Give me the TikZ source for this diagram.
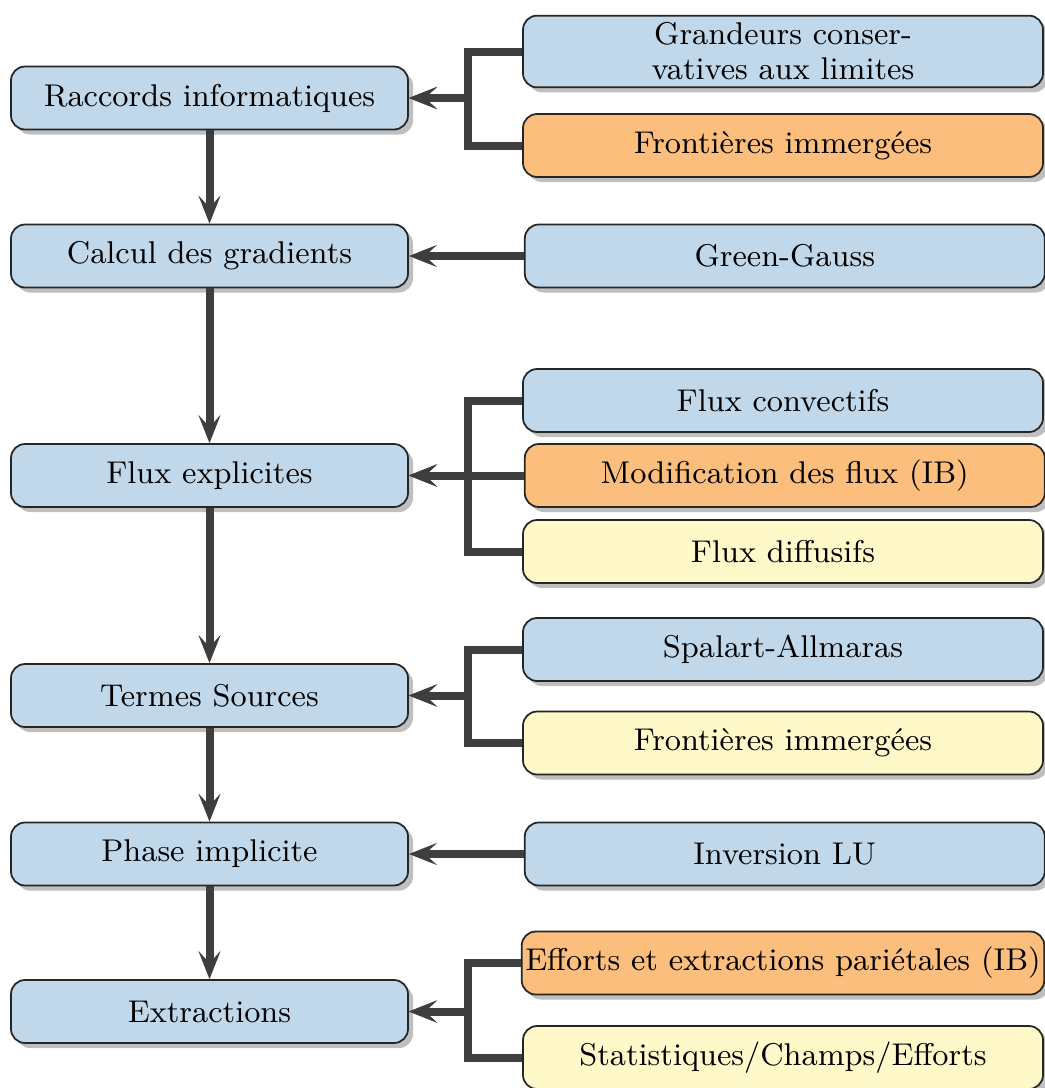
\documentclass[tikz,border=0pt]{standalone}
\usepackage{tikz}
\usetikzlibrary{positioning}
\usetikzlibrary{shadows}
\usetikzlibrary{arrows.meta}

\definecolor{boxblue}{RGB}{193,216,234}
\definecolor{boxorange}{RGB}{251,190,124}
\definecolor{boxyellow}{RGB}{255,248,200}
\definecolor{linegray}{RGB}{62,62,62}

\tikzset{
    box/.style={draw=black!85, line width=0.5pt, rounded corners=4pt, fill=boxblue,
        minimum height=0.63cm, inner xsep=1pt, inner ysep=2pt, align=center,
        font=\fontsize{8.95}{10}\selectfont,
        drop shadow={shadow xshift=0.05cm, shadow yshift=-0.05cm, fill=black!25, opacity=1}},
    leftbox/.style={box, minimum width=3.97cm},
    rightbox/.style={box, minimum width=5.2cm},
    ibbox/.style={fill=boxorange},
    otherbox/.style={fill=boxyellow},
    link/.style={line width=0.08cm, draw=linegray,
        -{Stealth[length=2.8mm, width=2.2mm, inset=1.2mm]}},
}

\begin{document}
\begin{tikzpicture}
    \useasboundingbox (0,0) rectangle (10.44,-10.88);

    % main steps
    \node[leftbox] (raccords) at (2.095,-0.98) {Raccords informatiques};
    \node[leftbox] (gradients) at (2.095,-2.56) {Calcul des gradients};
    \node[leftbox] (fluxexp) at (2.095,-4.755) {Flux explicites};
    \node[leftbox] (sources) at (2.095,-6.955) {Termes Sources};
    \node[leftbox] (implicite) at (2.095,-8.54) {Phase implicite};
    \node[leftbox] (extractions) at (2.095,-10.115) {Extractions};

    % details
    \node[rightbox] (grandeurs) at (7.83,-0.515) {Grandeurs conser-\\vatives aux limites};
    \node[rightbox, ibbox] (frontieres1) at (7.83,-1.455) {Frontières immergées};
    \node[rightbox, right=1.15cm of gradients] (greengauss) {Green-Gauss};
    \node[rightbox] (convectifs) at (7.83,-4.005) {Flux convectifs};
    \node[rightbox, ibbox, right=1.15cm of fluxexp] (modif) {Modification des flux (IB)};
    \node[rightbox, otherbox] (diffusifs) at (7.83,-5.515) {Flux diffusifs};
    \node[rightbox] (spalart) at (7.83,-6.495) {Spalart-Allmaras};
    \node[rightbox, otherbox] (frontieres2) at (7.83,-7.43) {Frontières immergées};
    \node[rightbox, right=1.15cm of implicite] (lu) {Inversion LU};
    \node[rightbox, ibbox] (efforts) at (7.83,-9.63) {Efforts et extractions pariétales (IB)};
    \node[rightbox, otherbox] (stats) at (7.83,-10.575) {Statistiques/Champs/Efforts};

    \coordinate (bus) at (4.68,0);

    % chain
    \draw[link] (raccords) -- (gradients);
    \draw[link] (gradients) -- (fluxexp);
    \draw[link] (fluxexp) -- (sources);
    \draw[link] (sources) -- (implicite);
    \draw[link] (implicite) -- (extractions);

    % inputs
    \draw[link] (greengauss) -- (gradients);
    \draw[link] (modif) -- (fluxexp);
    \draw[link] (lu) -- (implicite);
    \foreach \src/\dst in {grandeurs/raccords, frontieres1/raccords,
        convectifs/fluxexp, diffusifs/fluxexp, spalart/sources,
        frontieres2/sources, efforts/extractions, stats/extractions}
        \draw[link] (\src.west) -- (\src.west -| bus) |- (\dst.east);
\end{tikzpicture}
\end{document}
